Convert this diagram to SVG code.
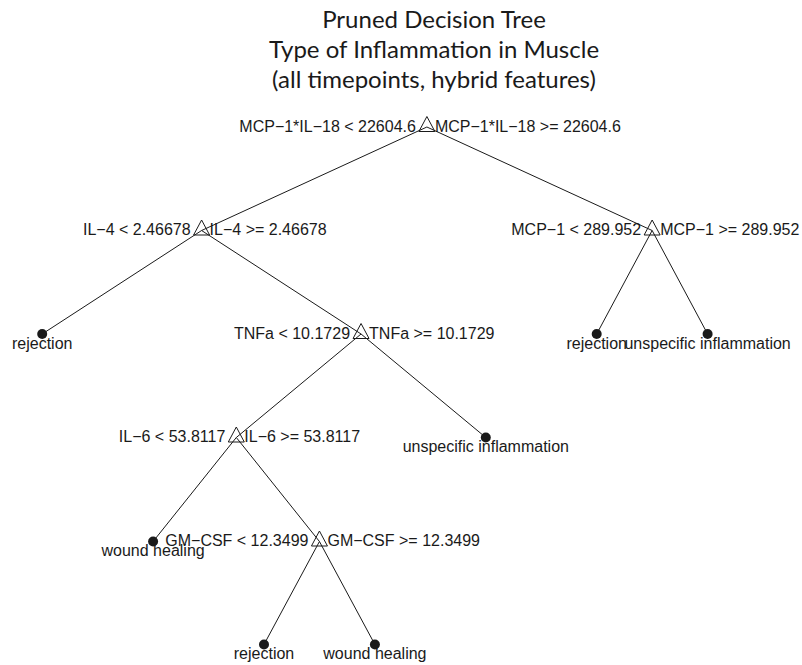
<svg xmlns="http://www.w3.org/2000/svg" width="802" height="665" viewBox="0 0 802 665">
  <style>
    .title { font-family: Lato, "Open Sans", "Liberation Sans", sans-serif; font-size: 24px; fill: #1a1a1a; text-anchor: middle; }
    .lbl { font-family: "Liberation Sans", Arial, sans-serif; font-size: 16px; fill: #1a1a1a; }
    .lt { text-anchor: end; }
    .rt { text-anchor: start; }
    .leaf text { text-anchor: middle; }
    .edge { stroke: #1a1a1a; stroke-width: 1; fill: none; }
    .split { stroke: #1a1a1a; stroke-width: 1; fill: none; }
    .dot { fill: #1a1a1a; }
  </style>
  <defs>
    <path id="tri" class="split" d="M0,-10.5 L8,4.5 L-8,4.5 Z"/>
  </defs>

  <rect width="802" height="665" fill="#ffffff"/>

  <g id="title">
    <text class="title" x="434" y="28">Pruned Decision Tree</text>
    <text class="title" x="434" y="58">Type of Inflammation in Muscle</text>
    <text class="title" x="434" y="88">(all timepoints, hybrid features)</text>
  </g>

  <!-- branches: parent position to child position -->
  <g id="connectors" class="edge">
    <line x1="426.9" y1="127" x2="201.6" y2="230.5"/>
    <line x1="426.9" y1="127" x2="652.15" y2="230.5"/>
    <line x1="201.6" y1="230.5" x2="42.2" y2="334"/>
    <line x1="201.6" y1="230.5" x2="361.05" y2="334"/>
    <line x1="652.15" y1="230.5" x2="596.7" y2="334"/>
    <line x1="652.15" y1="230.5" x2="707.6" y2="334"/>
    <line x1="361.05" y1="334" x2="236.3" y2="437.5"/>
    <line x1="361.05" y1="334" x2="485.8" y2="437.5"/>
    <line x1="236.3" y1="437.5" x2="153.1" y2="541.5"/>
    <line x1="236.3" y1="437.5" x2="319.45" y2="541.5"/>
    <line x1="319.45" y1="541.5" x2="264" y2="644.5"/>
    <line x1="319.45" y1="541.5" x2="374.9" y2="644.5"/>
  </g>

  <!-- split nodes -->
  <g id="n-root" transform="translate(426.9,127)">
    <use href="#tri"/>
    <text class="lbl lt" x="-11" y="4.5">MCP−1*IL−18 &lt; 22604.6</text>
    <text class="lbl rt" x="8" y="4.5">MCP−1*IL−18 &gt;= 22604.6</text>
  </g>
  <g id="n-il4" transform="translate(201.6,230.5)">
    <use href="#tri"/>
    <text class="lbl lt" x="-11" y="4.5">IL−4 &lt; 2.46678</text>
    <text class="lbl rt" x="8" y="4.5">IL−4 &gt;= 2.46678</text>
  </g>
  <g id="n-mcp1" transform="translate(652.15,230.5)">
    <use href="#tri"/>
    <text class="lbl lt" x="-11" y="4.5">MCP−1 &lt; 289.952</text>
    <text class="lbl rt" x="8" y="4.5">MCP−1 &gt;= 289.952</text>
  </g>
  <g id="n-tnfa" transform="translate(361.05,334)">
    <use href="#tri"/>
    <text class="lbl lt" x="-11" y="4.5">TNFa &lt; 10.1729</text>
    <text class="lbl rt" x="8" y="4.5">TNFa &gt;= 10.1729</text>
  </g>
  <g id="n-il6" transform="translate(236.3,437.5)">
    <use href="#tri"/>
    <text class="lbl lt" x="-11" y="4.5">IL−6 &lt; 53.8117</text>
    <text class="lbl rt" x="8" y="4.5">IL−6 &gt;= 53.8117</text>
  </g>
  <g id="n-gmcsf" transform="translate(319.45,541.5)">
    <use href="#tri"/>
    <text class="lbl lt" x="-11" y="4.5">GM−CSF &lt; 12.3499</text>
    <text class="lbl rt" x="8" y="4.5">GM−CSF &gt;= 12.3499</text>
  </g>

  <!-- leaves -->
  <g id="leaf-1" class="leaf" transform="translate(42.2,334)">
    <circle class="dot" r="5"/>
    <text class="lbl" y="14.5">rejection</text>
  </g>
  <g id="leaf-2" class="leaf" transform="translate(153.1,541.5)">
    <circle class="dot" r="5"/>
    <text class="lbl" y="14.5">wound healing</text>
  </g>
  <g id="leaf-3" class="leaf" transform="translate(264,644.5)">
    <circle class="dot" r="5"/>
    <text class="lbl" y="14.5">rejection</text>
  </g>
  <g id="leaf-4" class="leaf" transform="translate(374.9,644.5)">
    <circle class="dot" r="5"/>
    <text class="lbl" y="14.5">wound healing</text>
  </g>
  <g id="leaf-5" class="leaf" transform="translate(485.8,437.5)">
    <circle class="dot" r="5"/>
    <text class="lbl" y="14.5">unspecific inflammation</text>
  </g>
  <g id="leaf-6" class="leaf" transform="translate(596.7,334)">
    <circle class="dot" r="5"/>
    <text class="lbl" y="14.5">rejection</text>
  </g>
  <g id="leaf-7" class="leaf" transform="translate(707.6,334)">
    <circle class="dot" r="5"/>
    <text class="lbl" y="14.5">unspecific inflammation</text>
  </g>
</svg>
